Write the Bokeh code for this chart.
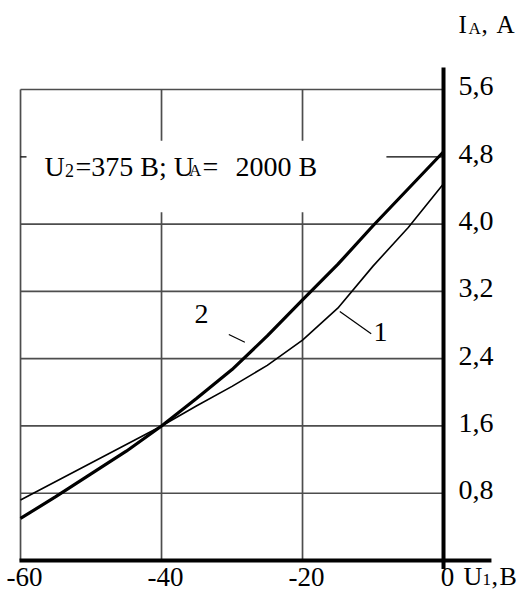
from bokeh.plotting import figure
from bokeh.models import Range1d
from bokeh.core.properties import value
from bokeh.embed import file_html
from bokeh.resources import INLINE

# ---- data ----
u1_curve1 = [-60, -50, -40, -35, -30, -25, -20, -15, -10, -5, 0]
ia_curve1 = [0.72, 1.16, 1.60, 1.84, 2.07, 2.32, 2.62, 3.00, 3.50, 3.96, 4.48]
u1_curve2 = [-60, -55, -50, -45, -40, -35, -30, -25, -20, -15, -10, -5, 0]
ia_curve2 = [0.50, 0.76, 1.03, 1.30, 1.60, 1.93, 2.27, 2.67, 3.10, 3.52, 3.98, 4.42, 4.86]
x_ticks = [-60, -40, -20, 0]
x_tick_labels = ["-60", "-40", "-20", "0"]
y_ticks = [0.8, 1.6, 2.4, 3.2, 4.0, 4.8, 5.6]
y_tick_labels = ["0,8", "1,6", "2,4", "3,2", "4,0", "4,8", "5,6"]
y_grid = [0.8, 1.6, 2.4, 3.2, 4.0, 5.6]
x_grid = [-60, -40, -20]

FONT = value("Liberation Serif")
GRID = "#4d4d4d"
FIX = -11  # baseline correction for text glyphs (px)

p = figure(width=520, height=593, output_backend="svg", toolbar_location=None,
           x_range=Range1d(-62.84, 10.92), y_range=Range1d(-0.392, 6.658),
           x_axis_location=None, y_axis_location=None, min_border=0,
           tools="")
p.grid.visible = False
p.outline_line_color = None
p.background_fill_color = "white"

xmin, xmax = x_ticks[0], x_ticks[-1]
ytop = y_ticks[-1]

# horizontal grid lines
p.segment(x0=[xmin] * len(y_grid), y0=y_grid, x1=[xmax] * len(y_grid), y1=y_grid,
          line_color=GRID, line_width=1.7)
# left frame line
p.segment(x0=[xmin], y0=[0], x1=[xmin], y1=[ytop], line_color=GRID, line_width=1.7)
# inner vertical grid lines, interrupted by the annotation
gap_lo, gap_hi = 4.14, 4.99
inner = x_grid[1:]
p.segment(x0=inner, y0=[0] * len(inner), x1=inner, y1=[gap_lo] * len(inner),
          line_color=GRID, line_width=1.7)
p.segment(x0=inner, y0=[gap_hi] * len(inner), x1=inner, y1=[ytop] * len(inner),
          line_color=GRID, line_width=1.7)

# 4,8 tick marks (no grid line there)
y48 = y_ticks[5]
p.segment(x0=[xmin], y0=[y48], x1=[xmin + 0.85], y1=[y48], line_color="black", line_width=1.3)
p.segment(x0=[-8.1], y0=[y48], x1=[xmax], y1=[y48], line_color="black", line_width=1.3)

# curves
p.line(u1_curve1, ia_curve1, line_color="black", line_width=1.6)
p.line(u1_curve2, ia_curve2, line_color="black", line_width=3.2)

# thick axes
p.segment(x0=[xmin - 0.15], y0=[0], x1=[6.8], y1=[0], line_color="black", line_width=4)
p.segment(x0=[xmax], y0=[-0.1], x1=[xmax], y1=[5.86], line_color="black", line_width=4)

# curve label leaders
p.segment(x0=[-30.45, -14.71], y0=[2.687, 2.961], x1=[-28.18, -10.26], y1=[2.596, 2.695],
          line_color="black", line_width=1.2)
p.text(x=[-34.33, -8.94], y=[2.806, 2.592], text=["2", "1"], y_offset=FIX, text_font=FONT,
       text_font_size="28px", text_align="center", text_baseline="alphabetic",
       text_color="black")

# tick labels
p.text(x=[xmax] * len(y_ticks), y=y_ticks, text=y_tick_labels, x_offset=15, y_offset=8 + FIX,
       text_font=FONT, text_font_size="28px", text_align="left",
       text_baseline="alphabetic", text_color="black")
p.text(x=x_ticks, y=[0] * len(x_ticks), text=x_tick_labels, x_offset=4, y_offset=27 + FIX,
       text_font=FONT, text_font_size="27px", text_align="center",
       text_baseline="alphabetic", text_color="black")

def piece(x, y, txt, dx, dy, size):
    p.text(x=[x], y=[y], text=[txt], x_offset=dx, y_offset=dy + FIX, text_font=FONT,
           text_font_size=size, text_align="left", text_baseline="alphabetic",
           text_color="black")

# axis titles
piece(xmax, ytop, "I", 15, -54, "25px")
piece(xmax, ytop, "A", 25, -50, "17px")
piece(xmax, ytop, ",", 38, -54, "25px")
piece(xmax, ytop, "A", 53, -54, "25px")

piece(xmax, 0, "U", 20, 27, "26px")
piece(xmax, 0, "1", 39, 30, "17px")
piece(xmax, 0, ",", 48, 27, "26px")
piece(xmax, 0, "B", 56, 27, "26px")

# annotation
ann_y = 4.558
piece(xmin, ann_y, "U", 24, 0, "28px")
piece(xmin, ann_y, "2", 44.5, 4, "18px")
piece(xmin, ann_y, "=375 B; U", 55, 0, "28px")
piece(xmin, ann_y, "A", 168.5, 4, "17px")
piece(xmin, ann_y, "=", 182, 0, "28px")
piece(xmin, ann_y, "2000 B", 215, 0, "28px")

open("out.html", "w").write(file_html(p, INLINE))
